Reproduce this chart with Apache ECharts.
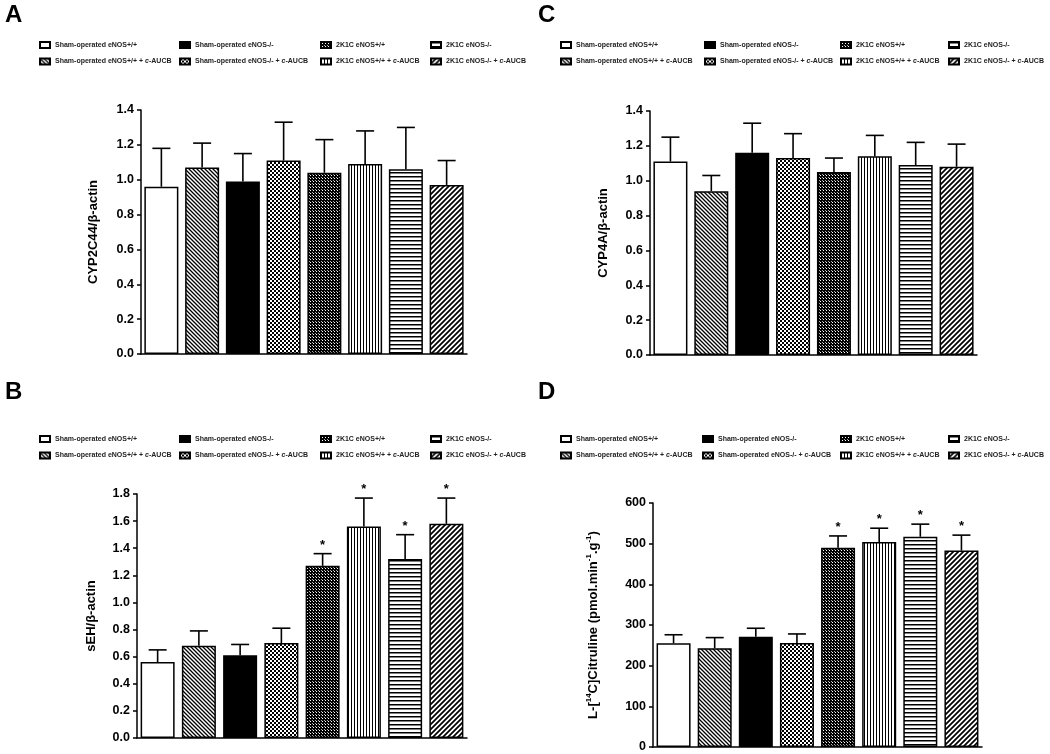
<!DOCTYPE html>
<html>
<head>
<meta charset="utf-8">
<script src="https://cdn.jsdelivr.net/npm/echarts@6/dist/echarts.min.js"></script>
<style>
html,body{margin:0;padding:0;background:#fff;}
#chart{width:1050px;height:754px;}
</style>
</head>
<body>
<div id="chart"></div>
<script>
// ---------- data ----------
const groups = [
  'Sham-operated eNOS+/+',
  'Sham-operated eNOS+/+ + c-AUCB',
  'Sham-operated eNOS-/-',
  'Sham-operated eNOS-/- + c-AUCB',
  '2K1C eNOS+/+',
  '2K1C eNOS+/+ + c-AUCB',
  '2K1C eNOS-/-',
  '2K1C eNOS-/- + c-AUCB'
];
const panelLetters = ['A', 'B', 'C', 'D'];
const yNames = ['CYP2C44/β-actin', 'sEH/β-actin', 'CYP4A/β-actin',
  'L-[{sup|14}C]Citruline (pmol.min{sup|-1}.g{sup|-1})'];

// Panel A: CYP2C44 / beta-actin
const cyp2c44Mean = [0.96, 1.07, 0.99, 1.11, 1.04, 1.09, 1.06, 0.97];
const cyp2c44Top  = [1.18, 1.21, 1.15, 1.33, 1.23, 1.28, 1.30, 1.11];
const cyp2c44Sig  = [0, 0, 0, 0, 0, 0, 0, 0];
// Panel B: sEH / beta-actin
const sehMean = [0.56, 0.68, 0.61, 0.70, 1.27, 1.56, 1.32, 1.58];
const sehTop  = [0.65, 0.79, 0.69, 0.81, 1.36, 1.77, 1.50, 1.77];
const sehSig  = [0, 0, 0, 0, 1, 1, 1, 1];
// Panel C: CYP4A / beta-actin
const cyp4aMean = [1.11, 0.94, 1.16, 1.13, 1.05, 1.14, 1.09, 1.08];
const cyp4aTop  = [1.25, 1.03, 1.33, 1.27, 1.13, 1.26, 1.22, 1.21];
const cyp4aSig  = [0, 0, 0, 0, 0, 0, 0, 0];
// Panel D: L-[14C]Citruline
const citMean = [255, 243, 271, 256, 490, 504, 517, 483];
const citTop  = [276, 269, 292, 278, 519, 538, 548, 521];
const citSig  = [0, 0, 0, 0, 1, 1, 1, 1];

const yMax = [1.4, 1.8, 1.4, 600];
const yInterval = [0.2, 0.2, 0.2, 100];

// ---------- layout ----------
const FONT = 'Liberation Sans, Arial, sans-serif';
const grids = [
  {left: 141, top: 110, width: 326, height: 244},
  {left: 137, top: 494, width: 330, height: 244},
  {left: 650, top: 111, width: 327, height: 244},
  {left: 653, top: 503, width: 329, height: 244}
];
const titlePos = [[5, 3], [5, 380], [538, 3], [538, 380]];
const legendCols = [[39, 179, 320, 430], [39, 179, 320, 430], [560, 704, 840, 948], [560, 702, 840, 948]];
const legendRow1 = [45, 439, 45, 439];
const legendOrder = [[0, 1], [2, 3], [4, 5], [6, 7]]; // column -> [row1 group, row2 group]
const nameGaps = [40, 38, 39, 52];

const means = [cyp2c44Mean, sehMean, cyp4aMean, citMean];
const tops = [cyp2c44Top, sehTop, cyp4aTop, citTop];
const sigs = [cyp2c44Sig, sehSig, cyp4aSig, citSig];

// ---------- patterns ----------
function pat(w, h, draw) {
  const c = document.createElement('canvas');
  c.width = w; c.height = h;
  const ctx = c.getContext('2d');
  ctx.fillStyle = '#fff'; ctx.fillRect(0, 0, w, h);
  ctx.fillStyle = '#000'; ctx.strokeStyle = '#000';
  draw(ctx, w, h);
  return {image: c, repeat: 'repeat'};
}
const fills = [
  '#ffffff',
  pat(4, 4, (ctx, w) => { ctx.lineWidth = 1.3; ctx.beginPath();
    for (let k = -1; k <= 1; k++) { ctx.moveTo(k * w - 1, -1); ctx.lineTo(k * w + w + 1, w + 1); }
    ctx.stroke(); }),
  '#000000',
  pat(4, 4, (ctx) => { ctx.fillRect(0, 0, 2, 2); ctx.fillRect(2, 2, 2, 2); }),
  pat(3, 3, (ctx) => { ctx.fillRect(0, 0, 3, 3); ctx.fillStyle = '#fff'; ctx.fillRect(1, 1, 1, 1); ctx.fillStyle = '#aaa'; ctx.fillRect(0, 0, 1, 1); }),
  pat(3, 3, (ctx) => { ctx.fillRect(0, 0, 1, 3); }),
  pat(4, 4, (ctx) => { ctx.fillRect(0, 0, 4, 1.5); }),
  pat(5, 5, (ctx, w) => { ctx.lineWidth = 1.7; ctx.beginPath();
    for (let k = -1; k <= 1; k++) { ctx.moveTo(k * w - 1, w + 1); ctx.lineTo(k * w + w + 1, -1); }
    ctx.stroke(); })
];

// ---------- option ----------
const option = {
  backgroundColor: '#ffffff',
  animation: false,
  textStyle: {fontFamily: FONT},
  title: panelLetters.map((t, p) => ({
    text: t, left: titlePos[p][0], top: titlePos[p][1], padding: 0,
    textStyle: {fontSize: 24, fontWeight: 'bold', color: '#000', fontFamily: FONT}
  })),
  grid: grids.map(g => Object.assign({containLabel: false}, g)),
  xAxis: grids.map((g, p) => ({
    type: 'category', gridIndex: p, data: groups,
    axisLine: {lineStyle: {color: '#000', width: 1.5}},
    axisTick: {show: false}, axisLabel: {show: false}, splitLine: {show: false}
  })),
  yAxis: grids.map((g, p) => ({
    type: 'value', gridIndex: p, min: 0, max: yMax[p], interval: yInterval[p],
    name: yNames[p], nameLocation: 'middle', nameGap: nameGaps[p],
    nameTextStyle: {fontSize: 13, fontWeight: 'bold', color: '#000', fontFamily: FONT, lineHeight: 16,
      rich: {sup: {fontSize: 8, fontWeight: 'bold', color: '#000', verticalAlign: 'top', lineHeight: 8, fontFamily: FONT}}},
    axisLine: {show: true, lineStyle: {color: '#000', width: 1.5}},
    axisTick: {show: true, length: 4, lineStyle: {color: '#000', width: 1.5}},
    axisLabel: {fontSize: 12.5, fontWeight: 'bold', color: '#000', margin: 7, fontFamily: FONT,
      formatter: v => p === 3 ? String(Math.round(v)) : v.toFixed(1)},
    splitLine: {show: false}
  })),
  legend: [],
  series: []
};

for (let p = 0; p < 4; p++) {
  for (let c = 0; c < 4; c++) {
    option.legend.push({
      orient: 'vertical', left: legendCols[p][c], top: legendRow1[p] - 4.5,
      padding: 0, itemGap: 7.5, itemWidth: 10, itemHeight: 6, selectedMode: false,
      icon: 'rect',
      data: legendOrder[c].map(i => groups[i]),
      formatter: n => n.replace('c-AUCB', '{i|c}-AUCB'),
      textStyle: {fontSize: 7, fontWeight: 'bold', color: '#222', fontFamily: FONT, lineHeight: 9,
        rich: {i: {fontSize: 7, fontWeight: 'bold', fontStyle: 'italic', color: '#222', fontFamily: FONT}}}
    });
  }
  for (let i = 0; i < 8; i++) {
    option.series.push({
      type: 'bar', name: groups[i], xAxisIndex: p, yAxisIndex: p, stack: 'panel' + p,
      barWidth: 34,
      data: means[p].map((v, j) => j === i ? v : '-'),
      itemStyle: {color: fills[i], borderColor: '#000', borderWidth: 1.5},
      emphasis: {disabled: true}, silent: true
    });
  }
  option.series.push({
    type: 'custom', xAxisIndex: p, yAxisIndex: p, z: 5, silent: true,
    data: means[p].map((v, j) => [j, v, tops[p][j], sigs[p][j]]),
    renderItem: (params, api) => {
      const x = api.value(0);
      const a = api.coord([x, api.value(1)]);
      const b = api.coord([x, api.value(2)]);
      const st = {stroke: '#000', lineWidth: 1.6};
      const ch = [
        {type: 'line', shape: {x1: a[0], y1: a[1], x2: b[0], y2: b[1]}, style: st},
        {type: 'line', shape: {x1: b[0] - 9, y1: b[1], x2: b[0] + 9, y2: b[1]}, style: st}
      ];
      if (api.value(3) === 1) {
        ch.push({type: 'text', style: {text: '*', x: b[0], y: b[1] - 2, align: 'center', verticalAlign: 'bottom',
          fontSize: 13, fontWeight: 'bold', fill: '#000', fontFamily: FONT}});
      }
      return {type: 'group', children: ch};
    }
  });
}

const chart = echarts.init(document.getElementById('chart'), null, {renderer: 'canvas'});
chart.setOption(option);
</script>
</body>
</html>
